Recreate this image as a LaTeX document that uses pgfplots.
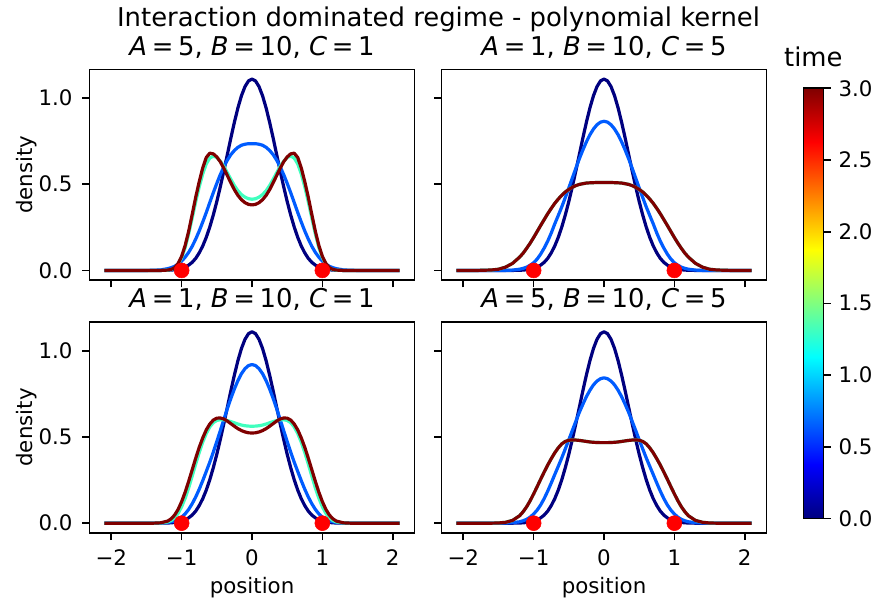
\documentclass[border=0pt]{standalone}
\usepackage{fontspec}
\setmainfont{DejaVu Sans}
\usepackage{pgfplots}
\usepackage{pgfplotstable}
\pgfplotsset{compat=1.18}
\definecolor{c0}{RGB}{0,0,127}
\definecolor{c1}{RGB}{0,92,255}
\definecolor{c2}{RGB}{64,255,190}
\definecolor{c3}{RGB}{127,0,0}

% top-left: A=5, B=10, C=1   (x, t=0, t1, t2, t=3)
\pgfplotstableread{
x n b c r
-2.1 0 0 0 0
-1.8 0 0 0 0
-1.6 0 0 0 0
-1.5 0 0 0 0
-1.4 0 0.001 0 0
-1.3 0 0.003 0 0
-1.2 0.001 0.010 0.001 0.002
-1.15 0.002 0.016 0.005 0.006
-1.1 0.004 0.024 0.014 0.016
-1.05 0.007 0.037 0.035 0.040
-1.0 0.012 0.054 0.074 0.082
-0.95 0.020 0.077 0.133 0.145
-0.9 0.031 0.105 0.212 0.228
-0.85 0.047 0.140 0.304 0.325
-0.8 0.070 0.182 0.398 0.425
-0.75 0.102 0.229 0.485 0.515
-0.7 0.142 0.281 0.560 0.595
-0.65 0.192 0.336 0.618 0.655
-0.6 0.252 0.394 0.652 0.680
-0.55 0.322 0.451 0.663 0.676
-0.5 0.400 0.505 0.655 0.658
-0.45 0.486 0.556 0.633 0.630
-0.4 0.578 0.602 0.603 0.592
-0.35 0.673 0.640 0.566 0.550
-0.3 0.769 0.672 0.528 0.508
-0.25 0.860 0.696 0.492 0.468
-0.2 0.943 0.714 0.462 0.435
-0.15 1.013 0.726 0.440 0.410
-0.1 1.066 0.732 0.425 0.393
-0.05 1.099 0.735 0.416 0.383
0 1.110 0.735 0.413 0.380
0.05 1.099 0.735 0.416 0.383
0.1 1.066 0.732 0.425 0.393
0.15 1.013 0.726 0.440 0.410
0.2 0.943 0.714 0.462 0.435
0.25 0.860 0.696 0.492 0.468
0.3 0.769 0.672 0.528 0.508
0.35 0.673 0.640 0.566 0.550
0.4 0.578 0.602 0.603 0.592
0.45 0.486 0.556 0.633 0.630
0.5 0.400 0.505 0.655 0.658
0.55 0.322 0.451 0.663 0.676
0.6 0.252 0.394 0.652 0.680
0.65 0.192 0.336 0.618 0.655
0.7 0.142 0.281 0.560 0.595
0.75 0.102 0.229 0.485 0.515
0.8 0.070 0.182 0.398 0.425
0.85 0.047 0.140 0.304 0.325
0.9 0.031 0.105 0.212 0.228
0.95 0.020 0.077 0.133 0.145
1.0 0.012 0.054 0.074 0.082
1.05 0.007 0.037 0.035 0.040
1.1 0.004 0.024 0.014 0.016
1.15 0.002 0.016 0.005 0.006
1.2 0.001 0.010 0.001 0.002
1.3 0 0.003 0 0
1.4 0 0.001 0 0
1.5 0 0 0 0
1.6 0 0 0 0
1.8 0 0 0 0
2.1 0 0 0 0
}\tabTL

% top-right: A=1, B=10, C=5
\pgfplotstableread{
x n b r
-2.1 0 0 0
-1.8 0 0 0
-1.6 0 0 0.0025
-1.5 0 0 0.007
-1.4 0 0 0.019
-1.3 0 0.002 0.041
-1.2 0.001 0.007 0.077
-1.15 0.002 0.012 0.100
-1.1 0.004 0.019 0.128
-1.05 0.007 0.030 0.158
-1.0 0.012 0.045 0.191
-0.95 0.020 0.066 0.226
-0.9 0.031 0.095 0.261
-0.85 0.047 0.130 0.295
-0.8 0.070 0.170 0.329
-0.75 0.102 0.217 0.360
-0.7 0.142 0.270 0.389
-0.65 0.192 0.319 0.414
-0.6 0.252 0.369 0.436
-0.55 0.322 0.423 0.455
-0.5 0.400 0.479 0.470
-0.45 0.486 0.536 0.482
-0.4 0.578 0.593 0.492
-0.35 0.673 0.648 0.499
-0.3 0.769 0.699 0.503
-0.25 0.860 0.746 0.507
-0.2 0.943 0.787 0.508
-0.15 1.013 0.820 0.509
-0.1 1.066 0.845 0.510
-0.05 1.099 0.860 0.510
0 1.110 0.865 0.510
0.05 1.099 0.860 0.510
0.1 1.066 0.845 0.510
0.15 1.013 0.820 0.509
0.2 0.943 0.787 0.508
0.25 0.860 0.746 0.507
0.3 0.769 0.699 0.503
0.35 0.673 0.648 0.499
0.4 0.578 0.593 0.492
0.45 0.486 0.536 0.482
0.5 0.400 0.479 0.470
0.55 0.322 0.423 0.455
0.6 0.252 0.369 0.436
0.65 0.192 0.319 0.414
0.7 0.142 0.270 0.389
0.75 0.102 0.217 0.360
0.8 0.070 0.170 0.329
0.85 0.047 0.130 0.295
0.9 0.031 0.095 0.261
0.95 0.020 0.066 0.226
1.0 0.012 0.045 0.191
1.05 0.007 0.030 0.158
1.1 0.004 0.019 0.128
1.15 0.002 0.012 0.100
1.2 0.001 0.007 0.077
1.3 0 0.002 0.041
1.4 0 0 0.019
1.5 0 0 0.007
1.6 0 0 0.0025
1.8 0 0 0
2.1 0 0 0
}\tabTR

% bottom-left: A=1, B=10, C=1
\pgfplotstableread{
x n b c r
-2.1 0 0 0 0
-1.8 0 0 0 0
-1.6 0 0 0 0
-1.5 0 0 0 0
-1.4 0 0 0 0
-1.3 0 0.001 0.001 0.002
-1.2 0.001 0.004 0.007 0.012
-1.15 0.002 0.008 0.015 0.025
-1.1 0.004 0.013 0.031 0.047
-1.05 0.007 0.022 0.057 0.080
-1.0 0.012 0.035 0.095 0.125
-0.95 0.020 0.054 0.145 0.180
-0.9 0.031 0.080 0.205 0.243
-0.85 0.047 0.113 0.273 0.310
-0.8 0.070 0.152 0.343 0.377
-0.75 0.102 0.197 0.410 0.440
-0.7 0.142 0.247 0.470 0.495
-0.65 0.192 0.300 0.520 0.541
-0.6 0.252 0.354 0.558 0.575
-0.55 0.322 0.412 0.583 0.598
-0.5 0.400 0.474 0.596 0.609
-0.45 0.486 0.537 0.600 0.610
-0.4 0.578 0.602 0.599 0.604
-0.35 0.673 0.665 0.595 0.592
-0.3 0.769 0.724 0.589 0.577
-0.25 0.860 0.779 0.582 0.562
-0.2 0.943 0.827 0.575 0.548
-0.15 1.013 0.867 0.569 0.537
-0.1 1.066 0.896 0.565 0.529
-0.05 1.099 0.914 0.563 0.524
0 1.110 0.920 0.562 0.523
0.05 1.099 0.914 0.563 0.524
0.1 1.066 0.896 0.565 0.529
0.15 1.013 0.867 0.569 0.537
0.2 0.943 0.827 0.575 0.548
0.25 0.860 0.779 0.582 0.562
0.3 0.769 0.724 0.589 0.577
0.35 0.673 0.665 0.595 0.592
0.4 0.578 0.602 0.599 0.604
0.45 0.486 0.537 0.600 0.610
0.5 0.400 0.474 0.596 0.609
0.55 0.322 0.412 0.583 0.598
0.6 0.252 0.354 0.558 0.575
0.65 0.192 0.300 0.520 0.541
0.7 0.142 0.247 0.470 0.495
0.75 0.102 0.197 0.410 0.440
0.8 0.070 0.152 0.343 0.377
0.85 0.047 0.113 0.273 0.310
0.9 0.031 0.080 0.205 0.243
0.95 0.020 0.054 0.145 0.180
1.0 0.012 0.035 0.095 0.125
1.05 0.007 0.022 0.057 0.080
1.1 0.004 0.013 0.031 0.047
1.15 0.002 0.008 0.015 0.025
1.2 0.001 0.004 0.007 0.012
1.3 0 0.001 0.001 0.002
1.4 0 0 0 0
1.5 0 0 0 0
1.6 0 0 0 0
1.8 0 0 0 0
2.1 0 0 0 0
}\tabBL

% bottom-right: A=5, B=10, C=5
\pgfplotstableread{
x n b r
-2.1 0 0 0
-1.8 0 0 0
-1.6 0 0 0
-1.5 0 0 0.001
-1.4 0 0.001 0.005
-1.3 0 0.003 0.016
-1.2 0.001 0.008 0.043
-1.15 0.002 0.014 0.066
-1.1 0.004 0.022 0.095
-1.05 0.007 0.035 0.130
-1.0 0.012 0.053 0.170
-0.95 0.020 0.076 0.212
-0.9 0.031 0.106 0.255
-0.85 0.047 0.143 0.297
-0.8 0.070 0.186 0.337
-0.75 0.102 0.233 0.374
-0.7 0.142 0.282 0.408
-0.65 0.192 0.330 0.437
-0.6 0.252 0.379 0.460
-0.55 0.322 0.431 0.474
-0.5 0.400 0.484 0.481
-0.45 0.486 0.538 0.483
-0.4 0.578 0.591 0.482
-0.35 0.673 0.643 0.480
-0.3 0.769 0.690 0.477
-0.25 0.860 0.734 0.474
-0.2 0.943 0.771 0.471
-0.15 1.013 0.802 0.469
-0.1 1.066 0.824 0.468
-0.05 1.099 0.838 0.467
0 1.110 0.843 0.467
0.05 1.099 0.838 0.467
0.1 1.066 0.824 0.468
0.15 1.013 0.802 0.469
0.2 0.943 0.771 0.471
0.25 0.860 0.734 0.474
0.3 0.769 0.690 0.477
0.35 0.673 0.643 0.480
0.4 0.578 0.591 0.482
0.45 0.486 0.538 0.483
0.5 0.400 0.484 0.481
0.55 0.322 0.431 0.474
0.6 0.252 0.379 0.460
0.65 0.192 0.330 0.437
0.7 0.142 0.282 0.408
0.75 0.102 0.233 0.374
0.8 0.070 0.186 0.337
0.85 0.047 0.143 0.297
0.9 0.031 0.106 0.255
0.95 0.020 0.076 0.212
1.0 0.012 0.053 0.170
1.05 0.007 0.035 0.130
1.1 0.004 0.022 0.095
1.15 0.002 0.014 0.066
1.2 0.001 0.008 0.043
1.3 0 0.003 0.016
1.4 0 0.001 0.005
1.5 0 0 0.001
1.6 0 0 0
1.8 0 0 0
2.1 0 0 0
}\tabBR

\newcommand{\lblfont}{\fontsize{16}{19}\selectfont}
\newcommand{\ttlfont}{\fontsize{19.4}{23}\selectfont}
\newcommand{\eq}{\hspace{0.18em}=\hspace{0.18em}}

\pgfplotsset{
  panel/.style={
    scale only axis, width=243.75pt, height=157.9pt, anchor=south west,
    xmin=-2.31, xmax=2.31, ymin=-0.0555, ymax=1.1655,
    axis line style={line width=1.25pt, black},
    tick align=outside, xtick pos=left, ytick pos=left,
    major tick length=5.6pt,
    tick style={line width=1.25pt, black},
    xtick={-2,-1,0,1,2}, ytick={0,0.5,1},
    xticklabels={}, yticklabels={},
    title style={font=\ttlfont, at={(axis description cs:0.5,1.0295)}, anchor=base, inner sep=0pt},
    xlabel style={font=\lblfont, at={(axis description cs:0.5,-0.2865)}, anchor=base, inner sep=0pt},
    ylabel style={font=\lblfont, at={(axis description cs:-0.1923,0.5)}, anchor=center, inner sep=0pt},
  },
  crv/.style={line width=2.4pt, line join=round},
  dots/.style={only marks, mark=*, mark size=5.6pt, color=red, mark options={draw=none, fill=red}},
}

\begin{document}
\begin{tikzpicture}
\useasboundingbox (0,0) rectangle (657.75pt,450.75pt);

% top-left
\begin{axis}[panel, at={(67.125pt,240.75pt)},
  title={\textit{A}\eq 5, \textit{B}\eq 10, \textit{C}\eq 1}, ylabel={density}]
\addplot[crv, c0] table[x=x, y=n] {\tabTL};
\addplot[crv, c1] table[x=x, y=b] {\tabTL};
\addplot[crv, c2] table[x=x, y=c] {\tabTL};
\addplot[crv, c3] table[x=x, y=r] {\tabTL};
\addplot[dots] coordinates {(-1,0) (1,0)};
\end{axis}

% top-right
\begin{axis}[panel, at={(331.125pt,240.75pt)},
  title={\textit{A}\eq 1, \textit{B}\eq 10, \textit{C}\eq 5}]
\addplot[crv, c0] table[x=x, y=n] {\tabTR};
\addplot[crv, c1] table[x=x, y=b] {\tabTR};
\addplot[crv, c2] table[x=x, y=r] {\tabTR};
\addplot[crv, c3] table[x=x, y=r] {\tabTR};
\addplot[dots] coordinates {(-1,0) (1,0)};
\end{axis}

% bottom-left
\begin{axis}[panel, at={(67.125pt,51.2pt)},
  title={\textit{A}\eq 1, \textit{B}\eq 10, \textit{C}\eq 1}, ylabel={density}, xlabel={position}]
\addplot[crv, c0] table[x=x, y=n] {\tabBL};
\addplot[crv, c1] table[x=x, y=b] {\tabBL};
\addplot[crv, c2] table[x=x, y=c] {\tabBL};
\addplot[crv, c3] table[x=x, y=r] {\tabBL};
\addplot[dots] coordinates {(-1,0) (1,0)};
\end{axis}

% bottom-right
\begin{axis}[panel, at={(331.125pt,51.2pt)},
  title={\textit{A}\eq 5, \textit{B}\eq 10, \textit{C}\eq 5}, xlabel={position}]
\addplot[crv, c0] table[x=x, y=n] {\tabBR};
\addplot[crv, c1] table[x=x, y=b] {\tabBR};
\addplot[crv, c2] table[x=x, y=r] {\tabBR};
\addplot[crv, c3] table[x=x, y=r] {\tabBR};
\addplot[dots] coordinates {(-1,0) (1,0)};
\end{axis}

% colorbar
\begin{axis}[at={(602.5pt,62pt)}, anchor=south west, scale only axis,
  width=15pt, height=322.5pt, hide axis, xmin=0, xmax=1, ymin=0, ymax=1,
  colormap/jet, point meta min=0, point meta max=3,
  colorbar, colorbar shift/.style={},
  colorbar style={
    at={(parent axis.south west)}, anchor=south west, xshift=0pt, yshift=0pt,
    scale only axis, width=15pt, height=322.5pt,
    axis line style={line width=1.25pt, black},
    ytick={0,0.5,1,1.5,2,2.5,3}, yticklabels={},
    tick align=outside, ytick pos=right,
    major tick length=5.6pt,
    tick style={line width=1.25pt, black},
    title={time},
    title style={font=\ttlfont, at={(0.5,1)}, anchor=base, yshift=10pt, inner sep=0pt},
  }]
\addplot[draw=none] coordinates {(0.5,0.5)};
\end{axis}

% tick labels
\foreach \xx/\lab in {83.48/−2,136.24/−1,189.00/0,241.77/1,294.53/2,
                      347.48/−2,400.24/−1,453.00/0,505.77/1,558.53/2}
  {\node[anchor=base, font=\lblfont, inner sep=0pt] at (\xx pt,27pt) {\lab};}
\foreach \yy/\lab in {247.93/0.0,312.59/0.5,377.25/1.0,58.38/0.0,123.04/0.5,187.70/1.0}
  {\node[anchor=east, font=\lblfont, inner sep=0pt] at (54.6pt,\yy pt) {\lab};}
\foreach \yy/\lab in {62/0.0,115.75/0.5,169.5/1.0,223.25/1.5,277/2.0,330.75/2.5,384.5/3.0}
  {\node[anchor=west, font=\lblfont, inner sep=0pt] at (628.75pt,\yy pt) {\lab};}

\node[anchor=base, font=\ttlfont, inner sep=0pt] at (328.9pt,430.7pt)
  {Interaction dominated regime - polynomial kernel};
\end{tikzpicture}
\end{document}
